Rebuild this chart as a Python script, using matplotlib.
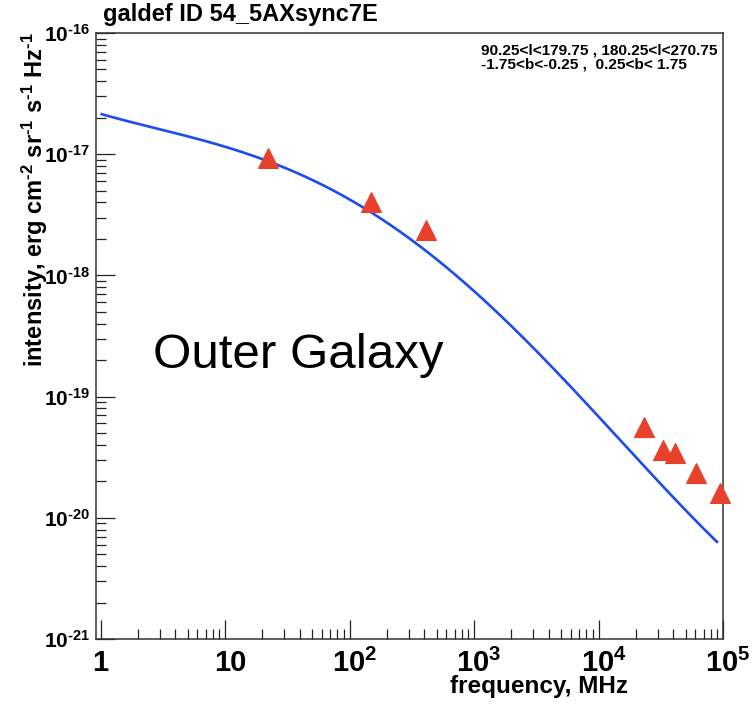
import numpy as np
import matplotlib
matplotlib.use("Agg")
import matplotlib.pyplot as plt
from matplotlib.ticker import FixedLocator, FixedFormatter, LogLocator, NullFormatter
from matplotlib.transforms import ScaledTranslation

plt.rcParams['font.family'] = ['Liberation Sans', 'DejaVu Sans']
plt.rcParams['mathtext.fontset'] = 'custom'
plt.rcParams['mathtext.rm'] = 'Liberation Sans:bold'
plt.rcParams['mathtext.bf'] = 'Liberation Sans:bold'
plt.rcParams['mathtext.it'] = 'Liberation Sans:bold'

# model synchrotron spectrum (frequency in MHz, intensity)
model_freq = [1.0, 2.5, 10.0, 22.0, 63.0, 151.0, 400.0, 1000.0, 2500.0,
              7000.0, 25000.0, 91000.0]
model_intensity = [2.15e-17, 1.68e-17, 1.18e-17, 8.5e-18, 5.5e-18, 3.3e-18,
                   1.62e-18, 7.6e-19, 3.0e-19, 1.0e-19, 2.5e-20, 6.2e-21]

# observed survey points
obs_freq = [22.0, 150.0, 408.0, 23000.0, 33000.0, 41000.0, 61000.0, 94000.0]
obs_intensity = [9.3e-18, 4.0e-18, 2.37e-18, 5.6e-20, 3.63e-20, 3.43e-20,
                 2.34e-20, 1.60e-20]

x_ticks = [1, 10, 100, 1000, 10000, 100000]
x_tick_labels = ['1', '10', r'$\mathdefault{10^{2}}$', r'$\mathdefault{10^{3}}$',
                 r'$\mathdefault{10^{4}}$', r'$\mathdefault{10^{5}}$']
y_ticks = [1e-21, 1e-20, 1e-19, 1e-18, 1e-17, 1e-16]
y_tick_labels = [r'$\mathdefault{10^{\text{-21}}}$', r'$\mathdefault{10^{\text{-20}}}$',
                 r'$\mathdefault{10^{\text{-19}}}$', r'$\mathdefault{10^{\text{-18}}}$',
                 r'$\mathdefault{10^{\text{-17}}}$', r'$\mathdefault{10^{\text{-16}}}$']

W, H = 753, 704
fig = plt.figure(figsize=(W / 100, H / 100), dpi=100)
ax = fig.add_axes([96 / W, 1 - 639 / H, (723 - 96) / W, (639 - 33) / H])

# smooth model curve through the tabulated points (fit in log-log space)
lf = np.log10(model_freq)
li = np.log10(model_intensity)
fine = np.linspace(lf[0], lf[-1], 400)
coef = np.polyfit(lf, li, 5)
ax.plot(10 ** fine, 10 ** np.polyval(coef, fine), color='#1a4cf0', lw=1.9,
        solid_capstyle='butt')
ax.plot(obs_freq, obs_intensity, linestyle='none', marker='^', ms=14,
        mew=0.8, color='#e8412b', mec='#e8412b', clip_on=False, zorder=3)

ax.set_xscale('log')
ax.set_yscale('log')
ax.set_xlim(0.92, 1e5)
ax.set_ylim(1e-21, 1e-16)

ax.xaxis.set_major_locator(FixedLocator(x_ticks))
ax.xaxis.set_major_formatter(FixedFormatter(x_tick_labels))
ax.yaxis.set_major_locator(FixedLocator(y_ticks))
ax.yaxis.set_major_formatter(FixedFormatter(y_tick_labels))
ax.xaxis.set_minor_locator(LogLocator(base=10, subs=np.arange(2, 10), numticks=20))
ax.yaxis.set_minor_locator(LogLocator(base=10, subs=np.arange(2, 10), numticks=20))
ax.xaxis.set_minor_formatter(NullFormatter())
ax.yaxis.set_minor_formatter(NullFormatter())

ax.tick_params(which='both', direction='in', top=False, right=False,
               color='#222222', width=0.9)
ax.tick_params(which='major', length=14)
ax.tick_params(which='minor', length=7)
ax.tick_params(axis='x', which='major', labelsize=21, pad=7)
ax.tick_params(axis='y', which='major', labelsize=15, pad=4.5)
for lab in ax.get_xticklabels() + ax.get_yticklabels():
    lab.set_fontweight('bold')
# keep the mantissa centred on its tick, exponent hanging to the right
for lab in ax.get_xticklabels()[1:]:
    lab.set_transform(lab.get_transform() +
                      ScaledTranslation(5 / 100, 0, fig.dpi_scale_trans))

for s in ax.spines.values():
    s.set_color('#333333')
    s.set_linewidth(1.1)

fig.text(103 / W, 1 - 14 / H, 'galdef ID 54_5AXsync7E', fontsize=17,
         fontweight='bold', ha='left', va='center')
fig.text(628 / W, 1 - 687 / H, 'frequency, MHz', fontsize=17.5,
         fontweight='bold', ha='right', va='center')
fig.text(35 / W, 1 - 32 / H,
         r'intensity, erg cm$^{\text{-2}}$ sr$^{\text{-1}}$ '
         r's$^{\text{-1}}$ Hz$^{\text{-1}}$',
         fontsize=17, fontweight='bold', rotation=90, ha='center', va='top')
fig.text(481 / W, 1 - 57.5 / H,
         '90.25<l<179.75 , 180.25<l<270.75\n-1.75<b<-0.25 ,  0.25<b< 1.75',
         fontsize=11.1, fontweight='bold', ha='left', va='center',
         multialignment='left', linespacing=0.98)
fig.text(153 / W, 1 - 355 / H, 'Outer Galaxy', fontsize=35.5, ha='left',
         va='center')

fig.savefig('out.png', dpi=100)
